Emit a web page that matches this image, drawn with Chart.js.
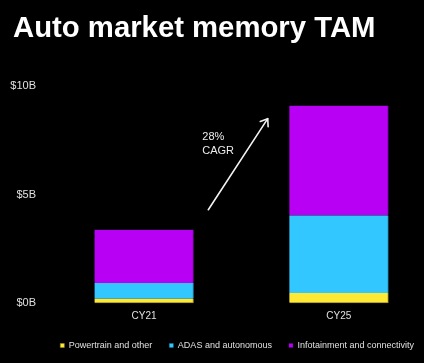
<!DOCTYPE html>
<html>
<head>
<meta charset="utf-8">
<script src="https://cdn.jsdelivr.net/npm/chart.js@4.4.0/dist/chart.umd.min.js"></script>
<style>
  html, body { margin: 0; padding: 0; background: #000; }
  canvas { display: block; }
</style>
</head>
<body>
<canvas id="c" width="424" height="363"></canvas>
<script>
// ---- data ----
const categories = ['CY21', 'CY25'];
const seriesNames = ['Powertrain and other', 'ADAS and autonomous', 'Infotainment and connectivity'];
const powertrain = [0.2, 0.46];
const adas = [0.72, 3.58];
const infotainment = [2.46, 5.06];
const yTickValues = [0, 5, 10];
const yTickLabels = ['$0B', '$5B', '$10B'];
const arrowLabel = ['28%', 'CAGR'];

// ---- styling ----
const colors = ['#FFE935', '#33C7FF', '#B800F5'];
const edgeColors = ['#9c8c20', '#1f84a8', '#6e0096'];
const FONT = "'Liberation Sans', Arial, sans-serif";

const seriesValues = [powertrain, adas, infotainment];
const datasets = seriesNames.map((name, s) => ({
  label: name,
  data: categories.map((c, i) => ({ x: i, y: seriesValues[s][i] })),
  backgroundColor: colors[s],
  borderColor: edgeColors[s],
  borderWidth: { right: 1, bottom: s === 0 ? 1 : 0, top: 0, left: 0 },
  borderSkipped: false,
  barThickness: 99,
  clip: false
}));

// annotation anchor in data units (category index, $B)
const arrowFrom = { x: 0.33, y: 4.3 };
const arrowTo = { x: 0.635, y: 8.5 };
const labelAt = { x: 0.299, y: 7.53 };

const arrowPlugin = {
  id: 'cagrArrow',
  afterDatasetsDraw(chart) {
    const xs = chart.scales.x, ys = chart.scales.y, ctx = chart.ctx;
    const x1 = xs.getPixelForValue(arrowFrom.x), y1 = ys.getPixelForValue(arrowFrom.y);
    const x2 = xs.getPixelForValue(arrowTo.x), y2 = ys.getPixelForValue(arrowTo.y);
    ctx.save();
    ctx.strokeStyle = '#f2f2f2';
    ctx.lineWidth = 1.6;
    ctx.lineCap = 'round';
    ctx.lineJoin = 'round';
    ctx.beginPath();
    ctx.moveTo(x1, y1);
    ctx.lineTo(x2, y2);
    ctx.stroke();
    const ang = Math.atan2(y2 - y1, x2 - x1);
    const len = 8, spread = Math.PI / 5;
    ctx.beginPath();
    ctx.moveTo(x2 - len * Math.cos(ang - spread), y2 - len * Math.sin(ang - spread));
    ctx.lineTo(x2, y2);
    ctx.lineTo(x2 - len * Math.cos(ang + spread), y2 - len * Math.sin(ang + spread));
    ctx.stroke();
    ctx.fillStyle = '#ececec';
    ctx.font = '11px ' + FONT;
    ctx.textAlign = 'left';
    ctx.textBaseline = 'alphabetic';
    const lx = xs.getPixelForValue(labelAt.x), ly = ys.getPixelForValue(labelAt.y);
    arrowLabel.forEach((t, i) => ctx.fillText(t, lx, ly + i * 14));
    ctx.restore();
  }
};

// small horizontal nudges of the title and legend blocks
const nudgePlugin = {
  id: 'nudge',
  afterLayout(chart) {
    if (chart.titleBlock) { chart.titleBlock.left += 3; chart.titleBlock.right += 3; }
    if (chart.legend) { chart.legend.left += 7; chart.legend.right += 7; }
  }
};

new Chart(document.getElementById('c'), {
  type: 'bar',
  data: { datasets },
  options: {
    responsive: false,
    animation: false,
    events: [],
    layout: { padding: { left: 10, right: 0, top: 0, bottom: 3 } },
    plugins: {
      title: {
        display: true,
        text: 'Auto market memory TAM',
        align: 'start',
        color: '#ffffff',
        font: { family: FONT, size: 29.3, weight: 'bold' },
        padding: { top: 11, bottom: 40 }
      },
      legend: {
        position: 'bottom',
        align: 'end',
        labels: {
          color: '#e0e0e0',
          font: { family: FONT, size: 9 },
          boxWidth: 4,
          boxHeight: 4,
          padding: 17
        }
      },
      tooltip: { enabled: false }
    },
    scales: {
      x: {
        type: 'linear',
        stacked: true,
        offset: false,
        bounds: 'data',
        min: -0.503,
        max: 1.437,
        grid: { display: false, drawTicks: false },
        border: { display: false },
        afterBuildTicks(scale) { scale.ticks = categories.map((c, i) => ({ value: i })); },
        afterFit(scale) { scale.height = 21; },
        ticks: {
          color: '#e0e0e0',
          font: { family: FONT, size: 10 },
          padding: 7,
          autoSkip: false,
          maxRotation: 0,
          callback: (v) => categories[v]
        }
      },
      y: {
        stacked: true,
        min: 0,
        max: 10,
        grid: { display: false, drawTicks: false },
        border: { display: false },
        afterBuildTicks(scale) { scale.ticks = yTickValues.map(v => ({ value: v })); },
        afterFit(scale) { scale.width = 36; },
        ticks: {
          color: '#e0e0e0',
          font: { family: FONT, size: 11 },
          padding: 10,
          callback: (v) => yTickLabels[yTickValues.indexOf(v)]
        }
      }
    }
  },
  plugins: [arrowPlugin, nudgePlugin]
});
</script>
</body>
</html>
